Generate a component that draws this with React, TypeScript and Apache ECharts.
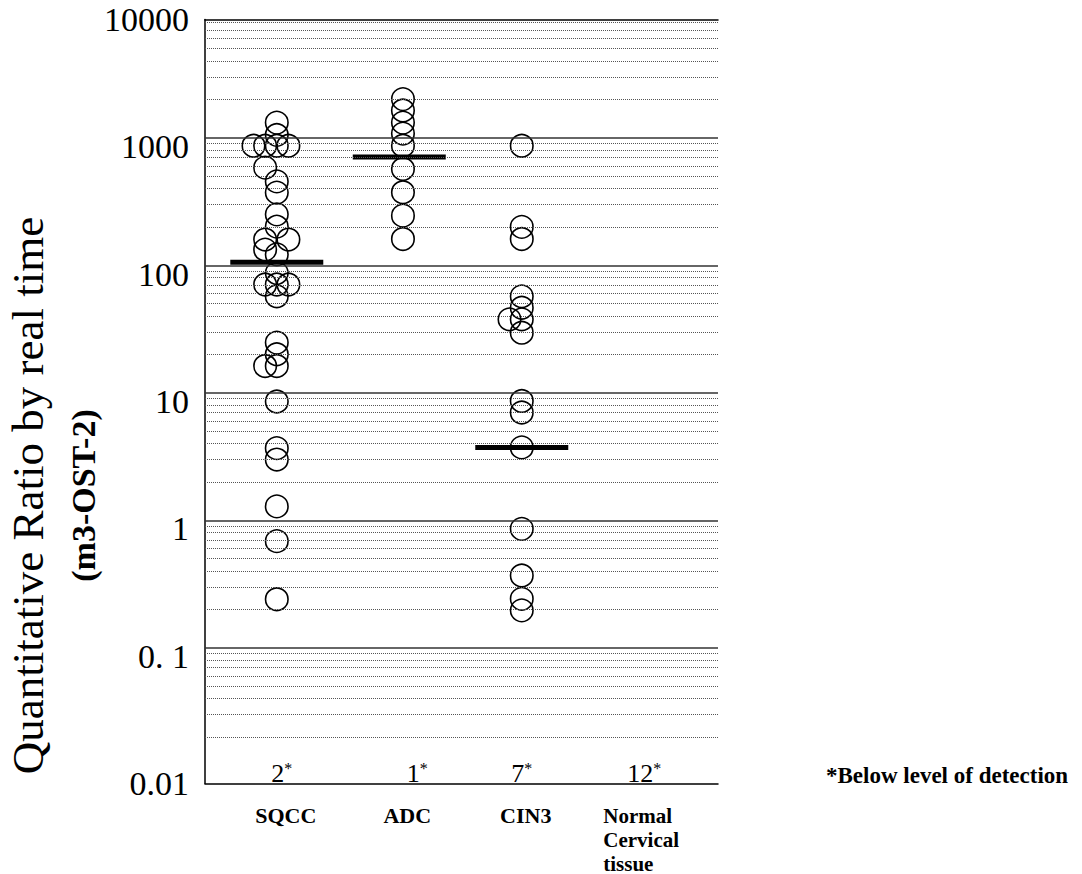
import React, { useEffect, useRef } from 'react';
import * as echarts from 'echarts';

// ---------- data ----------
const CATEGORIES = ['SQCC', 'ADC', 'CIN3', 'Normal\nCervical\ntissue'];
const BELOW_DETECTION = [2, 1, 7, 12];

const SQCC_VALUES = [1550, 1240, 1020, 1020, 1020, 1020, 686, 535, 437, 295, 236, 187, 187, 156, 143, 102, 83, 83, 83, 67, 29, 23.5, 19, 19, 10, 4.3, 3.5, 1.5, 0.8, 0.28];
const SQCC_JITTER = [0, 0, -0.19, -0.095, 0, 0.095, -0.095, 0, 0, 0, 0, -0.095, 0.095, -0.095, 0, 0, -0.095, 0, 0.095, 0, 0, 0, -0.095, 0, 0, 0, 0, 0, 0, 0];

const ADC_VALUES = [2370, 1930, 1550, 1270, 1020, 670, 440, 288, 189];
const ADC_JITTER = [0.03, 0.03, 0.03, 0.03, 0.03, 0.03, 0.03, 0.03, 0.03];

const CIN3_VALUES = [1020, 235, 189, 67, 54.5, 44.2, 44.2, 34.7, 10.1, 8.2, 4.36, 1.0, 0.43, 0.282, 0.229];
const CIN3_JITTER = [0, 0, 0, 0, 0, 0, -0.1, 0, 0, 0, 0, 0, 0, 0, 0];

const MEDIANS = [124, 832, 4.36];

const Y_TICK_LABELS = ['0.01', '0. 1', '1', '10', '100', '1000', '10000'];
const MAJOR_GRID = [0.1, 1, 10, 100, 1000];
const GRID_DECADES = [0.01, 0.1, 1, 10, 100, 1000];
const MINOR_STEPS = [2, 3, 4, 5, 6, 7, 8, 9];

const FONT = '"Liberation Serif", "Times New Roman", Times, serif';

export default function App() {
  const ref = useRef<HTMLDivElement>(null);

  useEffect(() => {
    document.body.style.margin = '0';
    const chart = echarts.init(ref.current as HTMLDivElement, null, { renderer: 'svg' });

    const X_MIN = -0.586;
    const X_MAX = 3.602;
    const GRID_AXIS_MIN = 0.00862;
    const GRID_AXIS_MAX = 8466;

    const groups = [
      [SQCC_VALUES, SQCC_JITTER],
      [ADC_VALUES, ADC_JITTER],
      [CIN3_VALUES, CIN3_JITTER],
    ];
    const points: number[][] = [];
    groups.forEach(([vals, jit], ci) => {
      (vals as number[]).forEach((v, k) => points.push([ci + (jit as number[])[k], v]));
    });

    const minorGrid: number[] = [];
    GRID_DECADES.forEach((d) => MINOR_STEPS.forEach((s) => {
      const v = d * s;
      if (v <= GRID_AXIS_MAX) minorGrid.push(v);
    }));

    const labelPad = [18, 16, 8, 0];
    const countNudge = [5, 18, 0, 0];

    const axisLineStyle = { color: '#000', width: 1.5 };
    const catStyle = { fontFamily: FONT, fontWeight: 'bold', fontSize: 22, lineHeight: 24, color: '#000' };

    const option: any = {
      animation: false,
      backgroundColor: '#fff',
      title: {
        text: '*Below level of detection',
        left: 826,
        top: 764,
        padding: 0,
        textStyle: { fontFamily: FONT, fontWeight: 'bold', fontSize: 23, color: '#000' },
      },
      grid: { left: 205, top: 19.5, width: 513, height: 765.5 },
      xAxis: [
        {
          type: 'value',
          min: X_MIN,
          max: X_MAX,
          position: 'bottom',
          axisLine: { show: true, onZero: false, lineStyle: axisLineStyle },
          axisTick: { show: false },
          splitLine: { show: false },
          axisLabel: {
            customValues: [0, 1, 2, 3],
            margin: 20,
            formatter: (v: number) => {
              const i = Math.round(v);
              return CATEGORIES[i].split('\n').map((l) => `{c${i}|${l}}`).join('\n');
            },
            rich: {
              c0: { ...catStyle, padding: [0, 0, 0, labelPad[0]] },
              c1: { ...catStyle, padding: [0, 0, 0, labelPad[1]] },
              c2: { ...catStyle, padding: [0, 0, 0, labelPad[2]] },
              c3: { ...catStyle, fontSize: 21, lineHeight: 24, width: 82, align: 'left' },
            },
          },
        },
        {
          type: 'value',
          min: X_MIN,
          max: X_MAX,
          position: 'top',
          axisLine: { show: true, onZero: false, lineStyle: axisLineStyle },
          axisTick: { show: false },
          axisLabel: { show: false },
          splitLine: { show: false },
        },
      ],
      yAxis: [
        {
          type: 'log',
          logBase: 10,
          min: 0.01,
          max: 10000,
          splitNumber: 6,
          position: 'left',
          axisLine: { show: true, onZero: false, lineStyle: axisLineStyle },
          axisTick: { show: false },
          splitLine: { show: false },
          minorTick: { show: false },
          axisLabel: {
            margin: 16,
            fontFamily: FONT,
            fontSize: 34,
            color: '#000',
            formatter: (v: number) => {
              const idx = Math.round(Math.log10(v)) + 2;
              return Y_TICK_LABELS[idx] ?? '';
            },
          },
          name: '{a|Quantitative Ratio by real time}\n{b|(m3-OST-2)}',
          nameLocation: 'middle',
          nameRotate: 90,
          nameGap: 91,
          nameTextStyle: {
            padding: [0, 188, 0, 0],
            rich: {
              a: { fontFamily: FONT, fontSize: 45, lineHeight: 56, color: '#000' },
              b: { fontFamily: FONT, fontSize: 34, fontWeight: 'bold', lineHeight: 54, color: '#000' },
            },
          },
        },
        {
          type: 'log',
          logBase: 10,
          min: GRID_AXIS_MIN,
          max: GRID_AXIS_MAX,
          show: false,
          axisLine: { onZero: false },
        },
      ],
      series: [
        {
          name: 'gridlines',
          type: 'line',
          xAxisIndex: 0,
          yAxisIndex: 1,
          data: [[0, 1]],
          showSymbol: false,
          silent: true,
          lineStyle: { opacity: 0 },
          markLine: {
            silent: true,
            symbol: ['none', 'none'],
            label: { show: false },
            data: [
              ...minorGrid.map((v) => ({ yAxis: v, lineStyle: { type: 'dotted', width: 1, color: '#555' } })),
              ...MAJOR_GRID.map((v) => ({ yAxis: v, lineStyle: { type: 'solid', width: 1.6, color: '#333' } })),
            ],
          },
          z: 1,
        },
        {
          name: 'samples',
          type: 'scatter',
          xAxisIndex: 0,
          yAxisIndex: 0,
          symbol: 'circle',
          symbolSize: 22.5,
          itemStyle: { color: 'rgba(0,0,0,0)', borderColor: '#000', borderWidth: 1.6, opacity: 1 },
          data: points,
          z: 3,
        },
        {
          name: 'median',
          type: 'scatter',
          xAxisIndex: 0,
          yAxisIndex: 0,
          symbol: 'rect',
          symbolSize: [93, 5],
          itemStyle: { color: '#000', opacity: 1 },
          data: MEDIANS.map((m, i) => [i, m]),
          z: 4,
        },
        {
          name: 'below detection',
          type: 'scatter',
          xAxisIndex: 0,
          yAxisIndex: 0,
          symbolSize: 0,
          itemStyle: { color: 'rgba(0,0,0,0)', opacity: 1 },
          data: BELOW_DETECTION.map((n, i) => ({ value: [i, 0.01], label: { offset: [countNudge[i], 0] } })),
          label: {
            show: true,
            position: 'top',
            distance: -3,
            color: '#000',
            formatter: (p: any) => `{n|${BELOW_DETECTION[p.dataIndex]}}{s|*}`,
            rich: {
              n: { fontFamily: FONT, fontSize: 26, lineHeight: 26, color: '#000' },
              s: { fontFamily: FONT, fontSize: 16, lineHeight: 26, verticalAlign: 'top', color: '#000' },
            },
          },
          z: 5,
        },
      ],
    };

    chart.setOption(option);
    return () => chart.dispose();
  }, []);

  return <div ref={ref} style={{ width: 1082, height: 874 }} />;
}
